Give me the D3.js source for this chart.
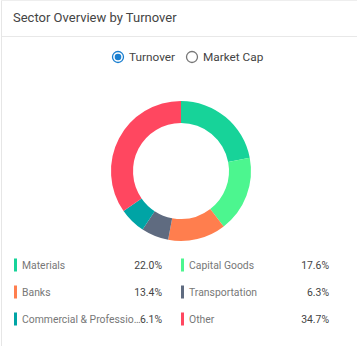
<!DOCTYPE html>
<html><head><meta charset="utf-8">
<script src="https://cdn.jsdelivr.net/npm/d3@7"></script>
<style>
html,body{margin:0;padding:0;background:#fff;}
svg{display:block;font-family:Roboto,"Noto Sans",sans-serif;}
</style></head>
<body>
<svg id="c" width="357" height="346"></svg>
<script>
const categories = ["Materials","Capital Goods","Banks","Transportation","Commercial & Professional Services","Other"];
const values = [22.0,17.6,13.4,6.3,6.1,34.7];
const valueLabels = ["22.0%","17.6%","13.4%","6.3%","6.1%","34.7%"];
const colors = ["#17D399","#4CF68F","#FF7E4E","#5F6B80","#00A4A5","#FF4760"];
const title = "Sector Overview by Turnover";
const options = ["Turnover","Market Cap"];

const svg = d3.select("#c");
// card borders
svg.append("line").attr("x1",1.5).attr("x2",1.5).attr("y1",0).attr("y2",346).attr("stroke","#e6e6e6");
svg.append("line").attr("x1",1).attr("x2",357).attr("y1",0.5).attr("y2",0.5).attr("stroke","#eeeeee");
svg.append("line").attr("x1",2).attr("x2",357).attr("y1",36.5).attr("y2",36.5).attr("stroke","#e8e8e8");
svg.append("text").attr("x",13).attr("y",22).attr("font-size",13).attr("fill","#444").text(title);

// radios
const radio = svg.append("g");
const rx = [118,192];
options.forEach((o,i)=>{
  const g = radio.append("g").attr("transform",`translate(${rx[i]},57)`);
  g.append("circle").attr("r",5.5).attr("fill","#fff").attr("stroke", i===0?"#1a7fd0":"#777").attr("stroke-width",1.3);
  if(i===0) g.append("circle").attr("r",3.3).attr("fill","#1a7fd0");
  g.append("text").attr("x",11).attr("y",4.2).attr("font-size",11.8).attr("fill","#444").text(o);
});

// donut
const pie = d3.pie().sort(null).value(d=>d)(values);
const arc = d3.arc().innerRadius(48).outerRadius(70);
const dg = svg.append("g").attr("transform","translate(181,171)");
dg.selectAll("path").data(pie).join("path").attr("d",arc).attr("fill",(d,i)=>colors[i]);

// legend
const lg = svg.append("g");
const colX = [14,181], valX=[162,329], rowY=[265,292,319];
categories.forEach((c,i)=>{
  const col = i%2, row = Math.floor(i/2);
  const g = lg.append("g").attr("transform",`translate(${colX[col]},${rowY[row]})`);
  g.append("rect").attr("x",0).attr("y",-6.5).attr("width",3).attr("height",13).attr("fill",colors[i]);
  const t = g.append("text").attr("x",8).attr("y",4).attr("font-size",10.4).attr("fill","#777").text(c);
  const vt = g.append("text").attr("x",valX[col]-colX[col]).attr("y",4).attr("text-anchor","end").attr("font-size",10.4).attr("fill","#444").text(valueLabels[i]);
  const maxW = (valX[col]-colX[col]) - vt.node().getComputedTextLength() - 7;
  let s = c;
  while(t.node().getComputedTextLength() > maxW && s.length>1){ s = s.slice(0,-1); t.text(s+"…"); }
});
</script>
</body></html>
